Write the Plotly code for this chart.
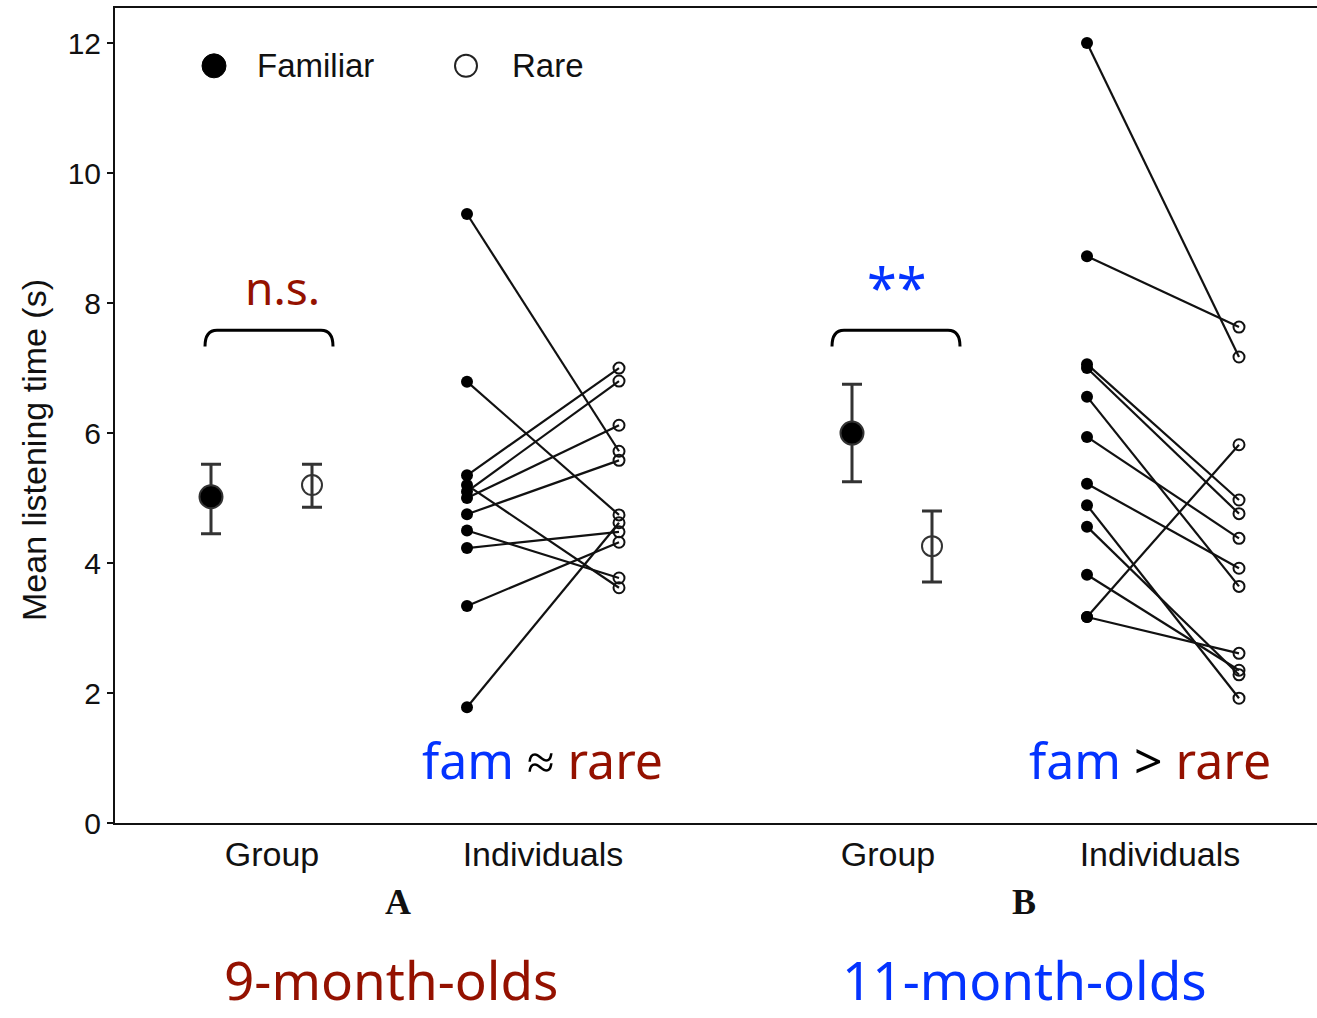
import plotly.graph_objects as go

# ---------------- data ----------------
y_tick_vals = [0, 2, 4, 6, 8, 10, 12]
x_tick_labels = ["Group", "Individuals", "Group", "Individuals"]
legend_labels = ["Familiar", "Rare"]
panel_letters = ["A", "B"]
age_labels = ["9-month-olds", "11-month-olds"]
y_title = "Mean listening time (s)"

# group means with asymmetric error bars (upper / lower ends)
group_a_means = [5.02, 5.20]
group_a_upper = [5.52, 5.52]
group_a_lower = [4.45, 4.86]
group_b_means = [6.00, 4.26]
group_b_upper = [6.75, 4.80]
group_b_lower = [5.25, 3.71]

# individual infants: familiar -> rare pairs
ind_a_fam = [9.37, 6.79, 5.35, 5.10, 5.00, 4.75, 5.20, 4.50, 4.23, 3.34, 1.78]
ind_a_rare = [5.72, 4.74, 7.00, 6.80, 6.12, 5.58, 3.62, 3.77, 4.48, 4.32, 4.62]
ind_b_fam = [12.00, 8.72, 7.06, 7.00, 6.56, 5.94, 5.22, 4.89, 4.56, 3.82, 3.17, 3.17]
ind_b_rare = [7.17, 7.63, 4.97, 4.76, 3.64, 4.38, 3.92, 1.92, 2.28, 2.35, 5.82, 2.61]

# ---------------- layout positions (x axis units) ----------------
X_A_GROUP = [0.96, 1.97]
X_A_IND = [3.52, 5.04]
X_B_GROUP = [7.37, 8.17]
X_B_IND = [9.72, 11.24]
x_tick_pos = [1.57, 4.28, 7.73, 10.45]

RED = "#941100"
BLUE = "#0433FF"
GREY = "#333333"

fig = go.Figure()


def add_individuals(xpair, fam, rare):
    lx, ly = [], []
    for f, r in zip(fam, rare):
        lx += [xpair[0], xpair[1], None]
        ly += [f, r, None]
    fig.add_trace(go.Scatter(x=lx, y=ly, mode="lines",
                             line=dict(color="#111111", width=2.2),
                             showlegend=False, hoverinfo="skip"))
    fig.add_trace(go.Scatter(x=[xpair[0]] * len(fam), y=fam, mode="markers",
                             marker=dict(symbol="circle", size=12, color="#000000"),
                             showlegend=False, name=legend_labels[0]))
    fig.add_trace(go.Scatter(x=[xpair[1]] * len(rare), y=rare, mode="markers",
                             marker=dict(symbol="circle-open", size=11, color="#111111",
                                         line=dict(width=2)),
                             showlegend=False, name=legend_labels[1]))


def add_group(xpair, means, upper, lower):
    for i, (sym, size) in enumerate([("circle", 23), ("circle-open", 20)]):
        fig.add_trace(go.Scatter(
            x=[xpair[i]], y=[means[i]], mode="markers",
            marker=dict(symbol=sym, size=size, color="#000000" if i == 0 else GREY,
                        line=dict(width=2, color=GREY)),
            error_y=dict(type="data", symmetric=False,
                         array=[upper[i] - means[i]], arrayminus=[means[i] - lower[i]],
                         color=GREY, thickness=3, width=10),
            showlegend=False, name=legend_labels[i]))


add_group(X_A_GROUP, group_a_means, group_a_upper, group_a_lower)
add_individuals(X_A_IND, ind_a_fam, ind_a_rare)
add_group(X_B_GROUP, group_b_means, group_b_upper, group_b_lower)
add_individuals(X_B_IND, ind_b_fam, ind_b_rare)

shapes = []
# braces over the group comparisons
for (x0, x1) in [(0.90, 2.18), (7.17, 8.45)]:
    r = 0.12
    shapes.append(dict(
        type="path", xref="x", yref="y",
        path=f"M {x0},7.33 Q {x0},7.58 {x0 + r},7.58 L {x1 - r},7.58 Q {x1},7.58 {x1},7.33",
        line=dict(color="#000000", width=3)))

# legend glyphs
shapes.append(dict(type="circle", xref="x", yref="y", xsizemode="pixel", ysizemode="pixel",
                   xanchor=0.99, yanchor=11.65, x0=-12, x1=12, y0=-12, y1=12,
                   fillcolor="#000000", line=dict(color="#000000", width=1)))
shapes.append(dict(type="circle", xref="x", yref="y", xsizemode="pixel", ysizemode="pixel",
                   xanchor=3.51, yanchor=11.65, x0=-11, x1=11, y0=-11, y1=11,
                   fillcolor="rgba(0,0,0,0)", line=dict(color="#222222", width=2)))

annotations = [
    dict(x=1.40, y=11.65, xref="x", yref="y", text=legend_labels[0], showarrow=False,
         xanchor="left", yanchor="middle",
         font=dict(family="Liberation Sans", size=33, color="#111111")),
    dict(x=3.95, y=11.65, xref="x", yref="y", text=legend_labels[1], showarrow=False,
         xanchor="left", yanchor="middle",
         font=dict(family="Liberation Sans", size=33, color="#111111")),
    dict(x=1.67, y=8.25, xref="x", yref="y", text="n.s.", showarrow=False,
         yanchor="middle", font=dict(family="Noto Sans", size=46, color=RED)),
    dict(x=7.82, y=8.25, xref="x", yref="y", text="**", showarrow=False,
         yanchor="middle", font=dict(family="Noto Sans", size=54, color=BLUE)),
    dict(x=4.27, y=0.97, xref="x", yref="y",
         text=f"<span style='color:{BLUE}'>fam</span> ≈ <span style='color:{RED}'>rare</span>",
         showarrow=False, yanchor="middle",
         font=dict(family="Noto Sans", size=50, color="#000000")),
    dict(x=10.35, y=0.97, xref="x", yref="y",
         text=f"<span style='color:{BLUE}'>fam</span> > <span style='color:{RED}'>rare</span>",
         showarrow=False, yanchor="middle",
         font=dict(family="Noto Sans", size=50, color="#000000")),
    dict(x=2.83, y=-0.097, xref="x", yref="paper", text=f"<b>{panel_letters[0]}</b>",
         showarrow=False, yanchor="middle",
         font=dict(family="Liberation Serif", size=36, color="#111111")),
    dict(x=9.09, y=-0.097, xref="x", yref="paper", text=f"<b>{panel_letters[1]}</b>",
         showarrow=False, yanchor="middle",
         font=dict(family="Liberation Serif", size=36, color="#111111")),
    dict(x=2.76, y=-0.1926, xref="x", yref="paper", text=age_labels[0], showarrow=False,
         yanchor="middle", font=dict(family="Noto Sans", size=53, color=RED)),
    dict(x=9.09, y=-0.1926, xref="x", yref="paper", text=age_labels[1], showarrow=False,
         yanchor="middle", font=dict(family="Noto Sans", size=53, color=BLUE)),
    dict(x=-0.068, y=0.458, xref="paper", yref="paper", text=y_title, showarrow=False,
         textangle=-90, xanchor="center", yanchor="middle",
         font=dict(family="Liberation Sans", size=34, color="#111111")),
]

fig.update_layout(
    width=1317, height=1018,
    margin=dict(l=115, r=0, t=8, b=195),
    paper_bgcolor="white", plot_bgcolor="white",
    showlegend=False,
    shapes=shapes, annotations=annotations,
    xaxis=dict(range=[0, 12.02], tickvals=x_tick_pos, ticktext=x_tick_labels,
               showline=True, linecolor="#111111", linewidth=2, mirror=True,
               ticks="", showgrid=False, zeroline=False,
               tickfont=dict(family="Liberation Sans", size=34, color="#111111")),
    yaxis=dict(range=[0, 12.54], tickvals=y_tick_vals,
               showline=True, linecolor="#111111", linewidth=2, mirror=False,
               ticks="outside", ticklen=6, tickwidth=1.5, tickcolor="#111111",
               showgrid=False, zeroline=False,
               tickfont=dict(family="Liberation Sans", size=30, color="#111111")),
)

fig.write_html("out.html")
